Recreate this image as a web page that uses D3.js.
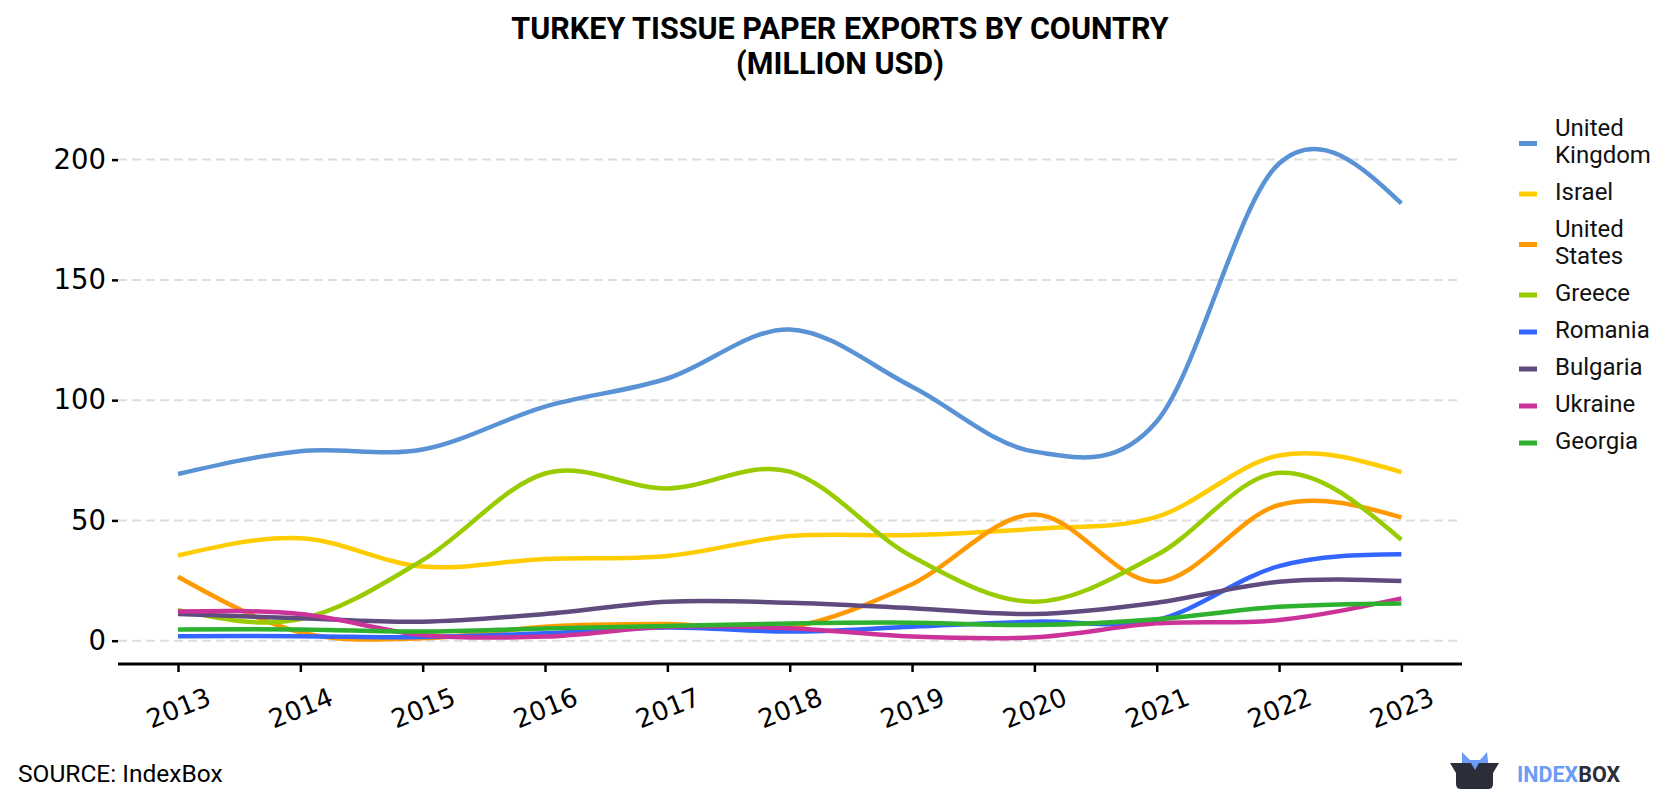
<!DOCTYPE html>
<html>
<head>
<meta charset="utf-8">
<script src="https://cdn.jsdelivr.net/npm/d3@7"></script>
<style>
  html, body { margin: 0; padding: 0; background: #ffffff; }
  svg { display: block; }
</style>
</head>
<body>
<svg id="chart" width="1680" height="800"></svg>
<script>
// ---------------- DATA ----------------
const years = [2013, 2014, 2015, 2016, 2017, 2018, 2019, 2020, 2021, 2022, 2023];
const yTicks = [0, 50, 100, 150, 200];
const seriesNames = ["United Kingdom", "Israel", "United States", "Greece", "Romania", "Bulgaria", "Ukraine", "Georgia"];
const legendLabels = [["United", "Kingdom"], ["Israel"], ["United", "States"], ["Greece"], ["Romania"], ["Bulgaria"], ["Ukraine"], ["Georgia"]];
const seriesColors = ["#5a92d6", "#ffcc00", "#ff9900", "#99cc00", "#3366ff", "#604b7e", "#cc3399", "#2eb12e"];

const unitedKingdom = [69.3, 78.8, 79.5, 97.3, 109.0, 129.4, 105.6, 78.6, 91.1, 198.4, 181.8];
const israel        = [35.4, 42.6, 30.8, 34.0, 35.2, 43.5, 43.9, 46.5, 51.5, 77.0, 70.1];
const unitedStates  = [26.6, 3.5, 1.0, 5.8, 6.9, 5.5, 23.5, 52.5, 24.5, 56.4, 51.3];
const greece        = [12.7, 9.0, 33.5, 69.5, 63.3, 70.3, 35.0, 16.2, 35.6, 69.8, 42.0];
const romania       = [1.9, 1.9, 1.5, 3.1, 5.5, 3.8, 5.8, 7.9, 8.6, 31.0, 35.9];
const bulgaria      = [11.1, 9.3, 7.9, 11.1, 16.2, 15.8, 13.5, 11.1, 15.8, 24.5, 24.8];
const ukraine       = [12.1, 11.1, 2.4, 1.7, 5.8, 5.2, 1.7, 1.4, 7.2, 8.6, 17.6];
const georgia       = [4.7, 4.7, 3.8, 5.1, 6.1, 7.2, 7.5, 6.5, 8.9, 14.1, 15.5];

const seriesValues = [unitedKingdom, israel, unitedStates, greece, romania, bulgaria, ukraine, georgia];

const titleLines = ["TURKEY TISSUE PAPER EXPORTS BY COUNTRY", "(MILLION USD)"];
const sourceText = "SOURCE: IndexBox";

// ---------------- CURVE ----------------
// Catmull-Rom (uniform) interior tangents with natural end conditions.
function CurveSmooth(context) { this._context = context; }
CurveSmooth.prototype = {
  areaStart() { this._line = 0; },
  areaEnd() { this._line = NaN; },
  lineStart() { this._xs = []; this._ys = []; },
  point(px, py) { this._xs.push(+px); this._ys.push(+py); },
  lineEnd() {
    const xs = this._xs, ys = this._ys, n = xs.length, c = this._context;
    if (n === 0) return;
    c.moveTo(xs[0], ys[0]);
    if (n === 1) return;
    if (n === 2) { c.lineTo(xs[1], ys[1]); return; }
    const mx = new Array(n), my = new Array(n);
    for (let i = 1; i < n - 1; i++) {
      mx[i] = (xs[i + 1] - xs[i - 1]) / 2;
      my[i] = (ys[i + 1] - ys[i - 1]) / 2;
    }
    mx[0] = (3 * (xs[1] - xs[0]) - mx[1]) / 2;
    my[0] = (3 * (ys[1] - ys[0]) - my[1]) / 2;
    mx[n - 1] = (3 * (xs[n - 1] - xs[n - 2]) - mx[n - 2]) / 2;
    my[n - 1] = (3 * (ys[n - 1] - ys[n - 2]) - my[n - 2]) / 2;
    for (let i = 0; i < n - 1; i++) {
      c.bezierCurveTo(
        xs[i] + mx[i] / 3, ys[i] + my[i] / 3,
        xs[i + 1] - mx[i + 1] / 3, ys[i + 1] - my[i + 1] / 3,
        xs[i + 1], ys[i + 1]);
    }
  }
};
const curveSmooth = context => new CurveSmooth(context);

// ---------------- LAYOUT ----------------
const svg = d3.select("#chart");
const x = d3.scaleLinear().domain([2013, 2023]).range([178, 1401.4]);
const y = d3.scaleLinear().domain([0, 200]).range([640.7, 159.6]);
const plotLeft = 118, plotRight = 1462, axisY = 664;

// Title
svg.append("g").selectAll("text").data(titleLines).join("text")
  .attr("x", 840)
  .attr("y", (d, i) => 39 + i * 35)
  .attr("text-anchor", "middle")
  .attr("font-family", "Roboto, sans-serif")
  .attr("font-weight", "bold")
  .attr("font-size", 30.5)
  .attr("fill", "#000")
  .text(d => d);

// Gridlines
svg.append("g").selectAll("line").data(yTicks).join("line")
  .attr("x1", plotLeft).attr("x2", plotRight)
  .attr("y1", d => y(d)).attr("y2", d => y(d))
  .attr("stroke", "#dddddd")
  .attr("stroke-width", 2)
  .attr("stroke-dasharray", "9,5");

// Y axis (ticks + labels, no domain line)
const yAxis = svg.append("g")
  .attr("transform", `translate(${plotLeft},0)`)
  .call(d3.axisLeft(y).tickValues(yTicks).tickSize(6).tickPadding(6).tickFormat(d3.format("d")));
yAxis.select(".domain").remove();
yAxis.selectAll(".tick line").attr("stroke", "#000").attr("stroke-width", 2.5);
yAxis.selectAll(".tick text")
  .attr("font-family", "'DejaVu Sans', sans-serif")
  .attr("font-size", 27.5)
  .attr("fill", "#000");

// X axis
const xAxis = svg.append("g")
  .attr("transform", `translate(0,${axisY})`)
  .call(d3.axisBottom(x).tickValues(years).tickSize(8).tickFormat(d3.format("d")));
xAxis.select(".domain").remove();
xAxis.append("line")
  .attr("x1", plotLeft).attr("x2", plotRight)
  .attr("y1", 0).attr("y2", 0)
  .attr("stroke", "#000").attr("stroke-width", 3);
xAxis.selectAll(".tick line").attr("stroke", "#000").attr("stroke-width", 2.5);
xAxis.selectAll(".tick text")
  .attr("font-family", "'DejaVu Sans', sans-serif")
  .attr("font-size", 26)
  .attr("fill", "#000")
  .attr("text-anchor", "middle")
  .attr("dy", null)
  .attr("y", 0)
  .attr("dominant-baseline", "central")
  .attr("transform", "translate(0,44) rotate(-22)");

// Lines
const line = d3.line()
  .x((d, i) => x(years[i]))
  .y(d => y(d))
  .curve(curveSmooth);

svg.append("g").selectAll("path").data(seriesValues).join("path")
  .attr("d", d => line(d))
  .attr("fill", "none")
  .attr("stroke", (d, i) => seriesColors[i])
  .attr("stroke-width", 4.5)
  .attr("stroke-linecap", "butt")
  .attr("stroke-linejoin", "round");

// Legend
const legend = svg.append("g");
let cy = 128;
legendLabels.forEach((lines, i) => {
  const g = legend.append("g");
  lines.forEach((t, j) => {
    g.append("text")
      .attr("x", 1555)
      .attr("y", cy + j * 27)
      .attr("dominant-baseline", "central")
      .attr("font-family", "Roboto, sans-serif")
      .attr("font-size", 24)
      .attr("fill", "#111")
      .text(t);
  });
  const mid = cy + (lines.length - 1) * 27 / 2 + 2;
  g.append("line")
    .attr("x1", 1519).attr("x2", 1537)
    .attr("y1", mid).attr("y2", mid)
    .attr("stroke", seriesColors[i])
    .attr("stroke-width", 5);
  cy += (lines.length - 1) * 27 + 37;
});

// Source
svg.append("text")
  .attr("x", 18).attr("y", 782)
  .attr("font-family", "Roboto, sans-serif")
  .attr("font-size", 24.5)
  .attr("fill", "#000")
  .text(sourceText);

// Logo
const logo = svg.append("g");
logo.append("path")
  .attr("d", "M1462,763 L1462,752 L1470,760 L1480,760 L1487,752 L1489,770 L1475,778 L1462,770 Z")
  .attr("fill", "#6b9cf7");
logo.append("path")
  .attr("d", "M1450,763 L1471,763 L1475,770 L1479,763 L1499,763 L1493,773 L1493,784 Q1493,789 1488,789 L1461,789 Q1456,789 1456,784 L1456,773 Z")
  .attr("fill", "#2b2d38");
const logoText = logo.append("text")
  .attr("x", 1517).attr("y", 782)
  .attr("font-family", "Roboto, sans-serif")
  .attr("font-weight", "bold")
  .attr("font-size", 21.5);
logoText.append("tspan").attr("fill", "#6b9cf7").text("INDEX");
logoText.append("tspan").attr("fill", "#2b2d38").text("BOX");
</script>
</body>
</html>
